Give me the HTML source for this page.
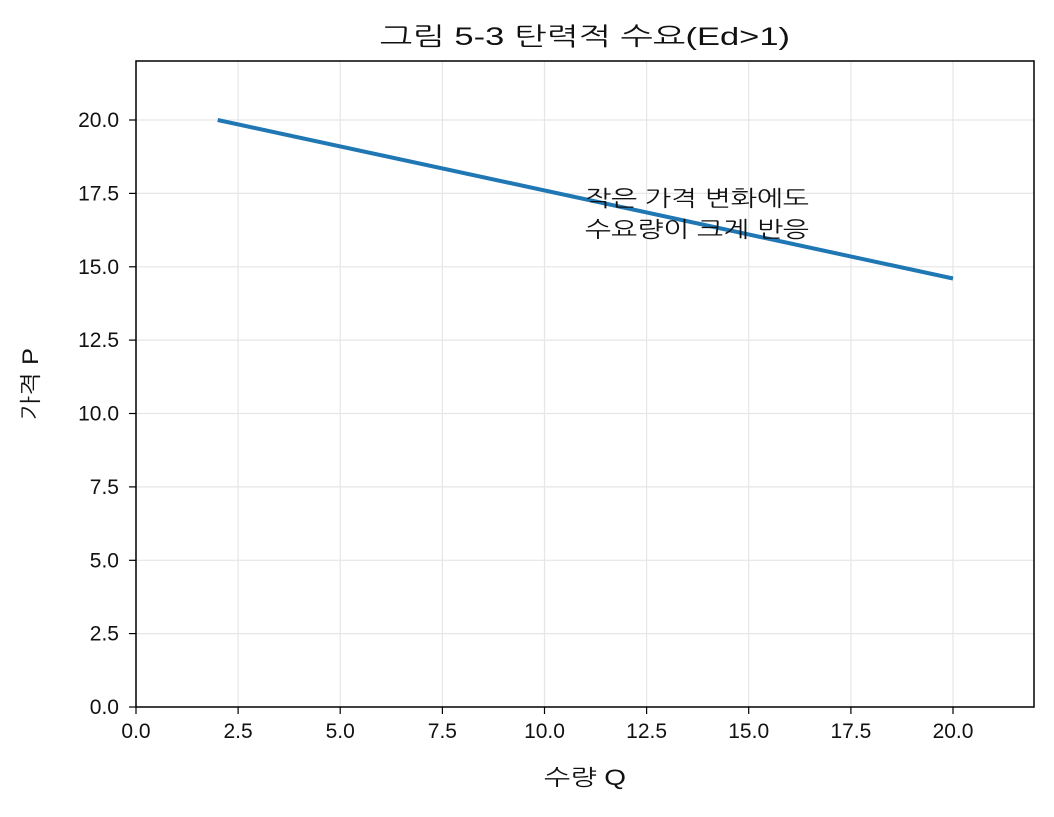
<!DOCTYPE html>
<html><head><meta charset="utf-8"><style>body{margin:0;background:#fff}</style></head>
<body>
<svg width="1054" height="812" xmlns="http://www.w3.org/2000/svg" font-family="'Liberation Sans','NanumGothic','Noto Sans CJK KR',sans-serif" font-size="21" fill="#111">
<rect width="1054" height="812" fill="#fff"/>
<g stroke="#e6e6e6" stroke-width="1.2">
<line x1="136" y1="61" x2="136" y2="707"/><line x1="238.1" y1="61" x2="238.1" y2="707"/><line x1="340.2" y1="61" x2="340.2" y2="707"/><line x1="442.4" y1="61" x2="442.4" y2="707"/><line x1="544.5" y1="61" x2="544.5" y2="707"/><line x1="646.6" y1="61" x2="646.6" y2="707"/><line x1="748.7" y1="61" x2="748.7" y2="707"/><line x1="850.9" y1="61" x2="850.9" y2="707"/><line x1="953" y1="61" x2="953" y2="707"/>
<line x1="136" y1="633.6" x2="1034" y2="633.6"/><line x1="136" y1="560.3" x2="1034" y2="560.3"/><line x1="136" y1="486.9" x2="1034" y2="486.9"/><line x1="136" y1="413.5" x2="1034" y2="413.5"/><line x1="136" y1="340.1" x2="1034" y2="340.1"/><line x1="136" y1="266.8" x2="1034" y2="266.8"/><line x1="136" y1="193.4" x2="1034" y2="193.4"/><line x1="136" y1="120" x2="1034" y2="120"/>
</g>
<line x1="217.7" y1="120" x2="953" y2="278.5" stroke="#1f77b4" stroke-width="4"/>
<rect x="136" y="61" width="898" height="646" fill="none" stroke="#000" stroke-width="1.5"/>
<g stroke="#000" stroke-width="1.2">
<line x1="136" y1="707" x2="136" y2="714"/><line x1="238.1" y1="707" x2="238.1" y2="714"/><line x1="340.2" y1="707" x2="340.2" y2="714"/><line x1="442.4" y1="707" x2="442.4" y2="714"/><line x1="544.5" y1="707" x2="544.5" y2="714"/><line x1="646.6" y1="707" x2="646.6" y2="714"/><line x1="748.7" y1="707" x2="748.7" y2="714"/><line x1="850.9" y1="707" x2="850.9" y2="714"/><line x1="953" y1="707" x2="953" y2="714"/>
<line x1="129" y1="707" x2="136" y2="707"/><line x1="129" y1="633.6" x2="136" y2="633.6"/><line x1="129" y1="560.3" x2="136" y2="560.3"/><line x1="129" y1="486.9" x2="136" y2="486.9"/><line x1="129" y1="413.5" x2="136" y2="413.5"/><line x1="129" y1="340.1" x2="136" y2="340.1"/><line x1="129" y1="266.8" x2="136" y2="266.8"/><line x1="129" y1="193.4" x2="136" y2="193.4"/><line x1="129" y1="120" x2="136" y2="120"/>
</g>
<g text-anchor="middle">
<text x="136" y="738">0.0</text><text x="238.1" y="738">2.5</text><text x="340.2" y="738">5.0</text><text x="442.4" y="738">7.5</text><text x="544.5" y="738">10.0</text><text x="646.6" y="738">12.5</text><text x="748.7" y="738">15.0</text><text x="850.9" y="738">17.5</text><text x="953" y="738">20.0</text>
<text x="585" y="785" font-size="22" textLength="82" lengthAdjust="spacingAndGlyphs">수량 Q</text>
<text x="585" y="45" font-size="25" textLength="410" lengthAdjust="spacingAndGlyphs">그림 5-3  탄력적 수요(Ed&gt;1)</text>
<text x="697" y="206" font-size="22" textLength="224" lengthAdjust="spacingAndGlyphs">작은 가격 변화에도</text>
<text x="697" y="237" font-size="22" textLength="224" lengthAdjust="spacingAndGlyphs">수요량이 크게 반응</text>
</g>
<g text-anchor="end">
<text x="119" y="714">0.0</text><text x="119" y="640.6">2.5</text><text x="119" y="567.3">5.0</text><text x="119" y="493.9">7.5</text><text x="119" y="420.5">10.0</text><text x="119" y="347.1">12.5</text><text x="119" y="273.8">15.0</text><text x="119" y="200.4">17.5</text><text x="119" y="127">20.0</text>
</g>
<text x="38" y="384" text-anchor="middle" font-size="22" transform="rotate(-90 38 384)" textLength="72" lengthAdjust="spacingAndGlyphs">가격 P</text>
</svg>
</body></html>
